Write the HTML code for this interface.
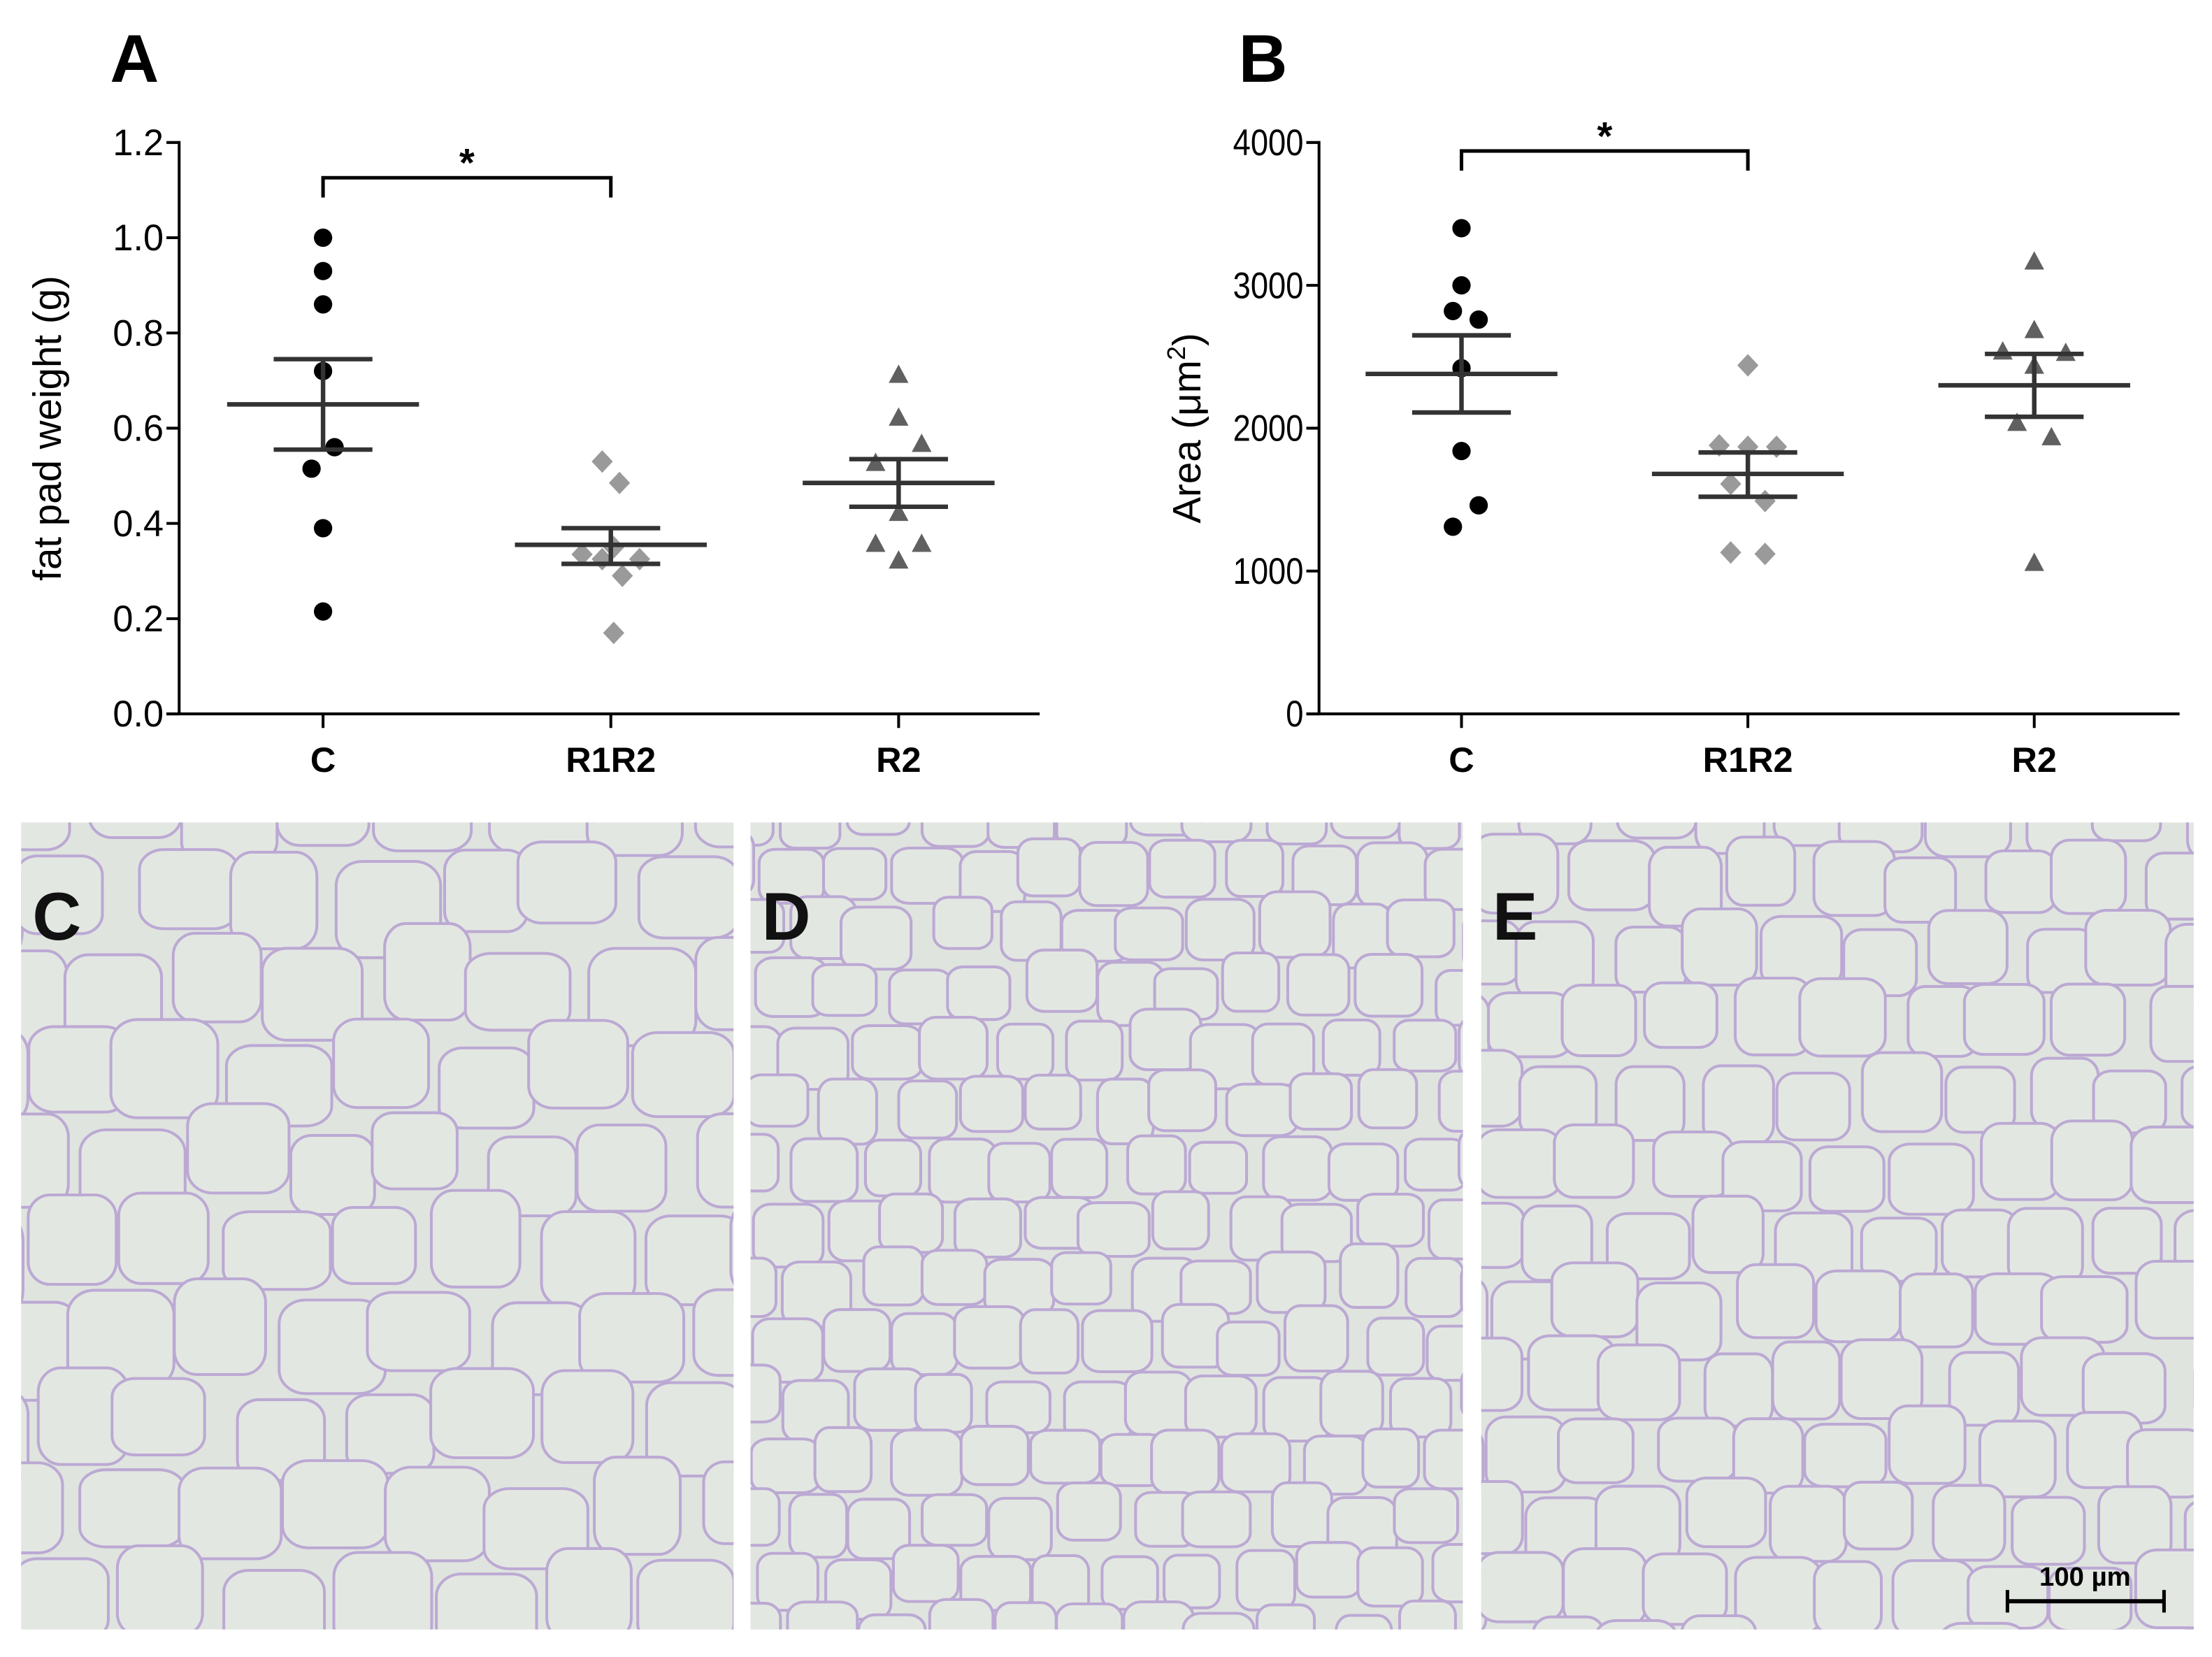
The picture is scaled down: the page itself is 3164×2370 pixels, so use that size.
<!DOCTYPE html>
<html><head><meta charset="utf-8"><style>html,body{margin:0;padding:0;background:#fff;width:3164px;height:2370px;overflow:hidden}svg{display:block;overflow:hidden}text{font-family:"Liberation Sans",Arial,sans-serif}</style></head>
<body>
<svg id="fig" width="3164" height="2370" viewBox="0 0 1568 1174.5" overflow="hidden" xmlns="http://www.w3.org/2000/svg">
<defs>
<clipPath id="cpC"><rect x="15" y="583" width="505" height="572"/></clipPath>
<clipPath id="cpD"><rect x="532" y="583" width="505" height="572"/></clipPath>
<clipPath id="cpE"><rect x="1050" y="583" width="505" height="572"/></clipPath>
</defs>
<g id="charts"></g>
<g id="photos"></g>
</svg>
<script>
// ---- Chart A data: fat pad weight (g)
const categories = ["C","R1R2","R2"];
const weightC = [1.0,0.93,0.86,0.72,0.56,0.515,0.39,0.215];
const weightR1R2 = [0.53,0.485,0.35,0.335,0.325,0.325,0.29,0.17];
const weightR2 = [0.71,0.62,0.565,0.525,0.42,0.355,0.355,0.32];
const weightMean = [0.65,0.355,0.485];
const weightSemLo = [0.555,0.315,0.435];
const weightSemHi = [0.745,0.39,0.535];
const weightTicks = ["0.0","0.2","0.4","0.6","0.8","1.0","1.2"];
// ---- Chart B data: area (um2)
const areaC = [3400,3000,2820,2760,2420,1840,1460,1310];
const areaR1R2 = [2440,1880,1870,1870,1610,1490,1130,1120];
const areaR2 = [3160,2680,2530,2520,2430,2030,1930,1050];
const areaMean = [2380,1680,2300];
const areaSemLo = [2110,1520,2080];
const areaSemHi = [2650,1830,2520];
const areaTicks = ["0","1000","2000","3000","4000"];
// horizontal jitter (category-width fractions)
const jitA = [[0,0,0,0,0.04,-0.04,0,0],[-0.03,0.03,0.01,-0.1,-0.03,0.1,0.04,0.01],[0,0,0.08,-0.08,0,-0.08,0.08,0]];
const jitB = [[0,0,-0.03,0.06,0,0,0.06,-0.03],[0,-0.1,0,0.1,-0.06,0.06,-0.06,0.06],[0,0,-0.11,0.11,0,-0.06,0.06,0]];

const NS="http://www.w3.org/2000/svg";
function mk(tag,attrs,parent){const e=document.createElementNS(NS,tag);for(const k in attrs)e.setAttribute(k,attrs[k]);parent.appendChild(e);return e;}
const charts=document.getElementById('charts');

function drawChart(cfg){
  const g=mk('g',{},charts);
  
  
  const y0=506,y1=101;
  const ys=v=>y0-(v-cfg.min)/(cfg.max-cfg.min)*(y0-y1);
  const xs=i=>cfg.x0+i*cfg.step;
  const ya=mk('line',{x1:cfg.ax,y1:y1-1,x2:cfg.ax,y2:y0,stroke:'#000','stroke-width':2},g);
  
  
  const xa=mk('line',{x1:cfg.ax-9,y1:y0,x2:cfg.ax+610,y2:y0,stroke:'#000','stroke-width':2},g);
  
  
  cfg.ticks.forEach(t=>{
    const v=parseFloat(t),y=ys(v);
    mk('line',{x1:cfg.ax-9,y1:y,x2:cfg.ax,y2:y,stroke:'#000','stroke-width':2},g);
    const tx=mk('text',{x:cfg.ax-11,y:y+9,'text-anchor':'end','font-size':26,fill:'#000',textLength:cfg.tl*t.length,lengthAdjust:'spacingAndGlyphs'},g);
    tx.textContent=t;
    
    
  });
  categories.forEach((c,i)=>{
    mk('line',{x1:xs(i),y1:y0,x2:xs(i),y2:y0+10,stroke:'#000','stroke-width':2},g);
    const tx=mk('text',{x:xs(i),y:547,'text-anchor':'middle','font-size':25,'font-weight':'bold',fill:'#000'},g);
    tx.textContent=c;
    
    
  });
  const tt=mk('text',{x:0,y:0,'text-anchor':'middle','font-size':28,fill:'#000',transform:`translate(${cfg.ax-84},${(y0+y1)/2}) rotate(-90)`},g);
  tt.innerHTML=cfg.title;
  
  
  const pl=mk('text',{x:cfg.lx,y:58,'font-size':48,'font-weight':'bold',fill:'#000'},g);
  pl.textContent=cfg.letter;
  
  
  cfg.series.forEach((s,i)=>{
    s.forEach((v,j)=>{
      const x=xs(i)+cfg.jit[i][j]*cfg.step,y=ys(v);let m;
      if(i===0) m=mk('circle',{cx:x,cy:y,r:6.5,fill:'#000'},g);
      else if(i===1) m=mk('polygon',{points:`${x},${y-8} ${x+7.5},${y} ${x},${y+8} ${x-7.5},${y}`,fill:'#9a9a9a'},g);
      else m=mk('polygon',{points:`${x},${y-8} ${x+7},${y+5} ${x-7},${y+5}`,fill:'#606060'},g);
      
      
    });
  });
  categories.forEach((c,i)=>{
    const x=xs(i),st={stroke:'#333','stroke-width':3.2};
    const a=mk('line',Object.assign({x1:x-68,y1:ys(cfg.mean[i]),x2:x+68,y2:ys(cfg.mean[i])},st),g);
    
    
    const b=mk('line',Object.assign({x1:x,y1:ys(cfg.lo[i]),x2:x,y2:ys(cfg.hi[i])},st),g);
    
    
    [cfg.lo[i],cfg.hi[i]].forEach(v=>{
      const e=mk('line',Object.assign({x1:x-35,y1:ys(v),x2:x+35,y2:ys(v)},st),g);
      
      
    });
  });
  const br=mk('polyline',{points:`${xs(0)},${cfg.by+14} ${xs(0)},${cfg.by} ${xs(1)},${cfg.by} ${xs(1)},${cfg.by+14}`,fill:'none',stroke:'#000','stroke-width':2.5},g);
  
  
  const star=mk('text',{x:(xs(0)+xs(1))/2,y:cfg.by-1,'text-anchor':'middle','font-size':28,'font-weight':'bold',fill:'#000'},g);
  star.textContent='*';
  
  
}
drawChart({name:'chart-a-fat-pad-weight',letter:'A',lx:78,ax:127,x0:229,step:204,min:0,max:1.2,ticks:weightTicks,tl:12,
  series:[weightC,weightR1R2,weightR2],mean:weightMean,lo:weightSemLo,hi:weightSemHi,jit:jitA,by:126,title:'fat pad weight (g)'});
drawChart({name:'chart-b-area',letter:'B',lx:878,ax:935,x0:1036,step:203,min:0,max:4000,ticks:areaTicks,tl:12.5,
  series:[areaC,areaR1R2,areaR2],mean:areaMean,lo:areaSemLo,hi:areaSemHi,jit:jitB,by:107,title:'Area (<tspan>μm</tspan><tspan dy="-11" font-size="18">2</tspan><tspan dy="11">)</tspan>'});

const photos=document.getElementById('photos');
let seed=7;function rnd(){seed=(seed*16807)%2147483647;return seed/2147483647;}
function photo(x,letter,cell,clip,name){
  const g=mk('g',{'clip-path':`url(#${clip})`},photos);
  
  
  mk('rect',{x:x,y:583,width:505,height:572,fill:'#dfe4df'},g);
  for(let yy=583-cell;yy<1155+cell;yy+=cell*0.87){
    const off=(Math.round((yy-583)/(cell*0.87))%2)*cell/2;
    for(let xx=x-cell+off;xx<x+505+cell;xx+=cell){
      const cx=xx+(rnd()-0.5)*cell*0.3,cy=yy+(rnd()-0.5)*cell*0.3;
      const rx=cell*0.48*(0.85+rnd()*0.25),ry=cell*0.44*(0.85+rnd()*0.25);
      let L=Math.max(cx-rx,x-20),R=Math.min(cx+rx,x+525),T=Math.max(cy-ry,563),B=Math.min(cy+ry,1170);
      if(R-L<4||B-T<4) continue;
      mk('rect',{x:L,y:T,width:R-L,height:B-T,rx:rx*0.5,ry:ry*0.5,fill:'#e3e7e2',stroke:'#bba9d3','stroke-width':2},g);
    }
  }
  const t=mk('text',{x:x+8,y:666,'font-size':48,'font-weight':'bold',fill:'#111'},photos);
  t.textContent=letter;
  
  
}
photo(15,'C',72,'cpC','histology-c');
photo(532,'D',48,'cpD','histology-d');
photo(1050,'E',58,'cpE','histology-e');
const sb=mk('g',{},photos);


mk('line',{x1:1422,y1:1135,x2:1535,y2:1135,stroke:'#000','stroke-width':3},sb);
mk('line',{x1:1423,y1:1127,x2:1423,y2:1143,stroke:'#000','stroke-width':2.5},sb);
mk('line',{x1:1534,y1:1127,x2:1534,y2:1143,stroke:'#000','stroke-width':2.5},sb);
const sbt=mk('text',{x:1478,y:1124,'text-anchor':'middle','font-size':19,'font-weight':'bold',fill:'#000'},sb);
sbt.textContent='100 µm';
</script>
</body></html>
